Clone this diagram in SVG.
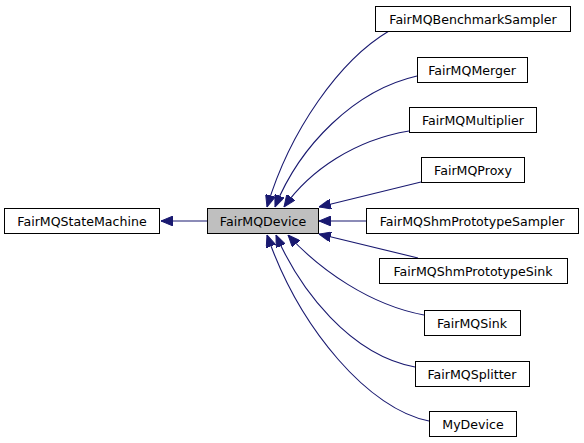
<svg xmlns="http://www.w3.org/2000/svg" width="584" height="443" viewBox="0 0 584 443">
<style>
.n rect{fill:#ffffff;stroke:#000000;stroke-width:1}
.n text{font-family:"DejaVu Sans",sans-serif;font-size:12.6px;fill:#000000;text-anchor:middle}
#FairMQDevice rect{fill:#bfbfbf}
.e path{fill:none;stroke:#191970;stroke-width:1.1;marker-end:url(#arr)}
</style>
<defs>
<marker id="arr" viewBox="0 0 12 10" refX="12" refY="5" markerWidth="12" markerHeight="10" markerUnits="userSpaceOnUse" orient="auto">
<path d="M0,0 L12,5 L0,10 z" fill="#191970" stroke="#191970"/>
</marker>
</defs>
<rect width="584" height="443" fill="#ffffff"/>
<g id="edges" class="e">
<path d="M207,221 L161,221"/>
<path d="M389,31 C340,60 290,130 267,207"/>
<path d="M417,76 C355,90 300,145 275,207"/>
<path d="M409,131 C355,140 310,170 284,207"/>
<path d="M421,182 L319,207"/>
<path d="M366,221 L319,221"/>
<path d="M418,258 L319,234"/>
<path d="M424,315 C370,305 320,270 288,235"/>
<path d="M415,367 C350,355 300,290 276,235"/>
<path d="M429,421 C370,410 300,330 267,235"/>
</g>
<g id="FairMQStateMachine" class="n"><rect x="4.5" y="208.5" width="155" height="25"/><text x="82" y="226">FairMQStateMachine</text></g>
<g id="FairMQDevice" class="n"><rect x="207.5" y="208.5" width="111" height="25"/><text x="263" y="226">FairMQDevice</text></g>
<g id="FairMQBenchmarkSampler" class="n"><rect x="375.5" y="6.5" width="195" height="25"/><text x="473" y="24">FairMQBenchmarkSampler</text></g>
<g id="FairMQMerger" class="n"><rect x="417.5" y="57.5" width="110" height="25"/><text x="472" y="75">FairMQMerger</text></g>
<g id="FairMQMultiplier" class="n"><rect x="409.5" y="107.5" width="127" height="25"/><text x="473" y="125">FairMQMultiplier</text></g>
<g id="FairMQProxy" class="n"><rect x="421.5" y="157.5" width="103" height="25"/><text x="473" y="175">FairMQProxy</text></g>
<g id="FairMQShmPrototypeSampler" class="n"><rect x="366.5" y="208.5" width="212" height="25"/><text x="472" y="226">FairMQShmPrototypeSampler</text></g>
<g id="FairMQShmPrototypeSink" class="n"><rect x="379.5" y="258.5" width="188" height="25"/><text x="473" y="276">FairMQShmPrototypeSink</text></g>
<g id="FairMQSink" class="n"><rect x="424.5" y="310.5" width="96" height="25"/><text x="472" y="328">FairMQSink</text></g>
<g id="FairMQSplitter" class="n"><rect x="415.5" y="361.5" width="114" height="25"/><text x="472" y="379">FairMQSplitter</text></g>
<g id="MyDevice" class="n"><rect x="429.5" y="411.5" width="87" height="25"/><text x="473" y="429">MyDevice</text></g>
</svg>
